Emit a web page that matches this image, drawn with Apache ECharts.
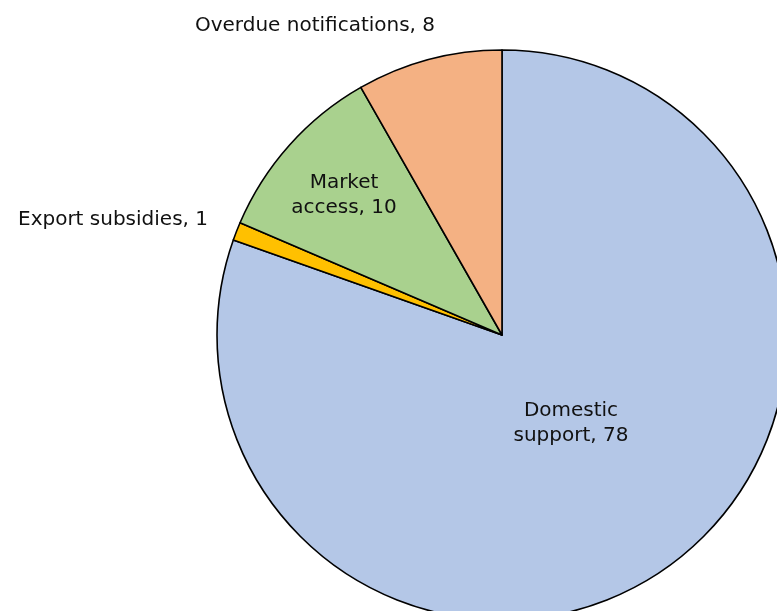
<!DOCTYPE html>
<html>
<head>
<meta charset="utf-8">
<script src="https://cdn.jsdelivr.net/npm/echarts@6/dist/echarts.min.js"></script>
<style>
  html, body { margin: 0; padding: 0; background: #fff; }
  #chart { width: 777px; height: 611px; }
</style>
</head>
<body>
<div id="chart"></div>
<script>
// Notification categories, in clockwise order from 12 o'clock
const categories = ['Domestic support', 'Export subsidies', 'Market access', 'Overdue notifications'];
const counts = [78, 1, 10, 8];
const colors = ['#B4C7E7', '#FFC000', '#A9D18E', '#F4B183'];
// Two-line wording used for labels drawn inside their slices
const labelText = ['Domestic\nsupport, 78', 'Export subsidies, 1', 'Market\naccess, 10', 'Overdue notifications, 8'];

// Label anchor points (pixels) and alignment per slice
const labelPos = [
  { x: 571, y: 423, align: 'center' },
  { x: 208, y: 220, align: 'right' },
  { x: 344, y: 195, align: 'center' },
  { x: 315, y: 26, align: 'center' }
];

const chart = echarts.init(document.getElementById('chart'), null, { renderer: 'canvas' });

chart.setOption({
  backgroundColor: '#ffffff',
  animation: false,
  series: [{
    type: 'pie',
    center: [502, 335],
    radius: 285,
    startAngle: 90,
    clockwise: true,
    avoidLabelOverlap: false,
    itemStyle: { borderColor: '#000000', borderWidth: 1.6 },
    label: {
      show: true,
      position: 'inside',
      color: '#111111',
      fontFamily: '"DejaVu Sans"',
      fontSize: 20,
      lineHeight: 25,
      align: 'center',
      formatter: p => labelText[p.dataIndex]
    },
    labelLine: { show: false },
    labelLayout: p => ({
      x: labelPos[p.dataIndex].x,
      y: labelPos[p.dataIndex].y,
      align: labelPos[p.dataIndex].align,
      verticalAlign: 'middle'
    }),
    emphasis: { disabled: true },
    data: categories.map((name, i) => ({
      name,
      value: counts[i],
      itemStyle: { color: colors[i] }
    }))
  }]
});
</script>
</body>
</html>
